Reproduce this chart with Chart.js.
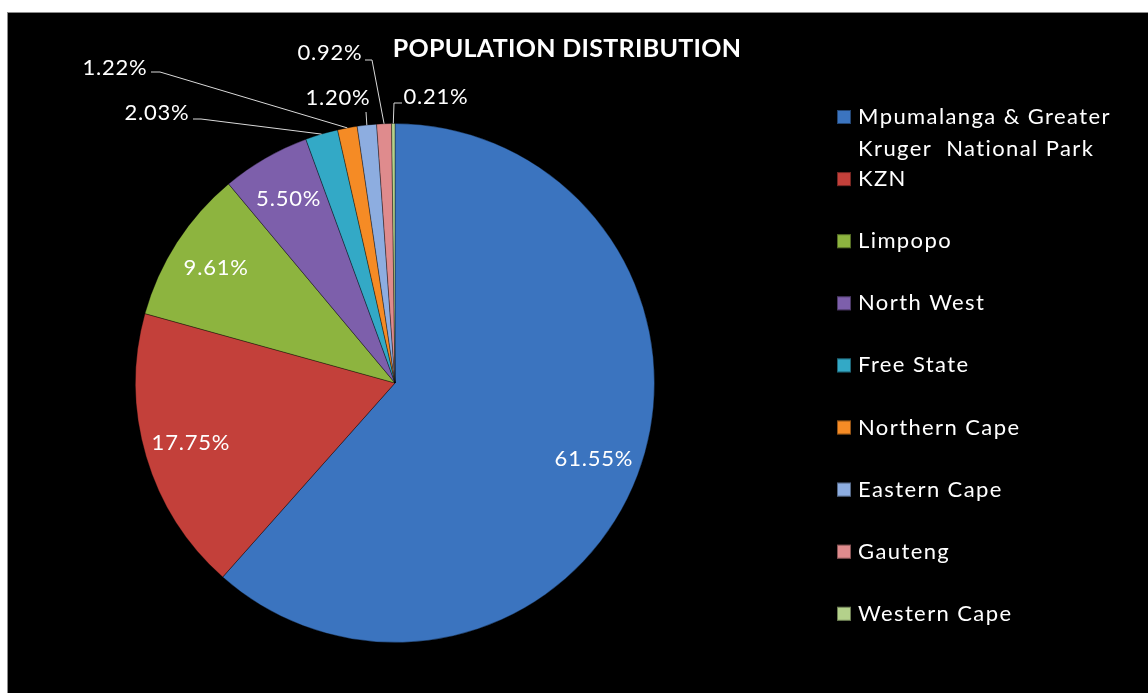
<!DOCTYPE html>
<html>
<head>
<meta charset="utf-8">
<title>Population Distribution</title>
<script src="https://cdn.jsdelivr.net/npm/chart.js@4.4.1/dist/chart.umd.min.js"></script>
<style>
    body {
        margin: 0;
        background: #fff;
    }
    #fondo {
        position: absolute;
        left: 7px;
        top: 12px;
        right: 0;
        bottom: 0;
        background: #000;
        border-top: 1px solid #8c8c8c;
        border-left: 1px solid #8c8c8c;
    }
    #contenedor {
        position: absolute;
        left: 0;
        top: 0;
        width: 1148px;
        height: 693px;
    }
</style>
</head>
<body>
<div id="fondo"></div>
<div id="contenedor">
    <canvas id="tarta"></canvas>
</div>

<script>
// Datos del gráfico
const provincias = ["Mpumalanga & Greater\nKruger  National Park", "KZN", "Limpopo", "North West",
                    "Free State", "Northern Cape", "Eastern Cape", "Gauteng", "Western Cape"];
const porcentajes = [61.55, 17.75, 9.61, 5.50, 2.03, 1.22, 1.20, 0.92, 0.21];
const colores = ["#3b74bf", "#c3403a", "#8db43f", "#7d5fab", "#33a9c6",
                 "#f58b25", "#8dade0", "#df8b8d", "#b4d18b"];

// Posición de las etiquetas pequeñas (fuera de la tarta): texto y codo de la línea guía
const etiquetasFuera = {
    4: { x: 157, y: 113, lx: 193, ly: 119, cx: 201 },
    5: { x: 115, y: 68, lx: 151, ly: 72, cx: 160 },
    6: { x: 338, y: 98, lx: 366, ly: 112, cx: 366 },
    7: { x: 330, y: 53, lx: 365, ly: 60, cx: 372 },
    8: { x: 436, y: 97, lx: 402, ly: 103, cx: 394 }
};

const fuente = "Lato, 'Open Sans', sans-serif";

// Plugin para las etiquetas de porcentaje, el título y la leyenda
const pluginEtiquetas = {
    id: "etiquetas",
    afterDatasetsDraw(chart) {
        const ctx = chart.ctx;
        const meta = chart.getDatasetMeta(0);
        ctx.save();
        ctx.fillStyle = "#fff";
        ctx.strokeStyle = "#d9d9d9";
        ctx.lineWidth = 1;
        ctx.font = "22px " + fuente;
        ctx.letterSpacing = "0.8px";
        ctx.textAlign = "center";
        ctx.textBaseline = "middle";

        meta.data.forEach((arco, i) => {
            const p = arco.getProps(["x", "y", "startAngle", "endAngle", "outerRadius"], true);
            const medio = (p.startAngle + p.endAngle) / 2;
            const texto = porcentajes[i].toFixed(2) + "%";
            const fuera = etiquetasFuera[i];
            if (!fuera) {
                const r = p.outerRadius * 0.82;
                ctx.fillText(texto, p.x + Math.cos(medio) * r, p.y + Math.sin(medio) * r);
            } else {
                // línea guía hasta el borde del sector
                const bx = p.x + Math.cos(medio) * p.outerRadius;
                const by = p.y + Math.sin(medio) * p.outerRadius;
                ctx.beginPath();
                ctx.moveTo(fuera.lx, fuera.ly);
                ctx.lineTo(fuera.cx, fuera.ly);
                ctx.lineTo(bx, by);
                ctx.stroke();
                ctx.fillText(texto, fuera.x, fuera.y);
            }
        });

        // Título
        ctx.font = "bold 25px " + fuente;
        ctx.letterSpacing = "0.3px";
        ctx.fillText("POPULATION DISTRIBUTION", 567, 49);

        // Leyenda
        ctx.font = "22px " + fuente;
        ctx.letterSpacing = "1.4px";
        ctx.textAlign = "left";
        let y = 117;
        chart.data.labels.forEach((nombre, i) => {
            const lineas = nombre.split("\n");
            ctx.fillStyle = colores[i];
            ctx.fillRect(837, y - 7, 14, 14);
            ctx.strokeStyle = "rgba(0,0,0,0.4)";
            ctx.strokeRect(837.5, y - 6.5, 13, 13);
            ctx.fillStyle = "#fff";
            lineas.forEach((linea, j) => {
                ctx.fillText(linea, 858, y + j * 32);
            });
            y += 62.1;
        });
        ctx.restore();
    }
};

function cargaGraficoTarta() {
    const datos = {
        labels: provincias,
        datasets: [{
            data: porcentajes,
            backgroundColor: colores,
            borderColor: "rgba(0,0,0,0.35)",
            borderWidth: 1
        }]
    };

    const config = {
        type: "pie",
        data: datos,
        options: {
            responsive: true,
            maintainAspectRatio: false,
            animation: false,
            layout: {
                padding: { left: 135, top: 123, right: 493, bottom: 50 }
            },
            plugins: {
                legend: { display: false },
                title: { display: false },
                tooltip: { enabled: false }
            }
        },
        plugins: [pluginEtiquetas]
    };

    const grafico = document.getElementById("tarta").getContext("2d");
    new Chart(grafico, config);
}

document.addEventListener("DOMContentLoaded", cargaGraficoTarta);
</script>
</body>
</html>
